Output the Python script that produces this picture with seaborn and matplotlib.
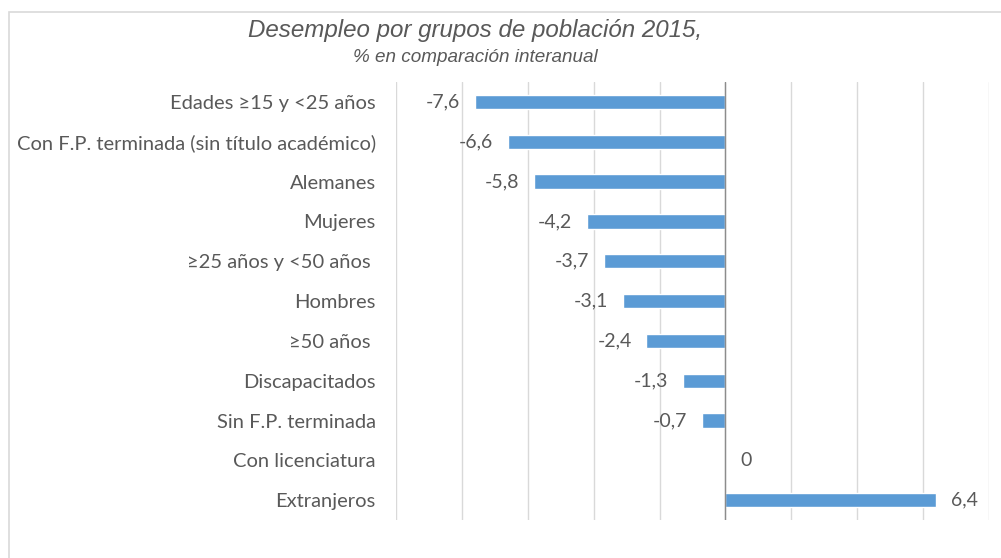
import matplotlib
matplotlib.use("Agg")
import matplotlib.pyplot as plt
import seaborn as sns
import pandas as pd
from matplotlib.patches import Rectangle

categories = [
    "Edades ≥15 y <25 años",
    "Con F.P. terminada (sin título académico)",
    "Alemanes",
    "Mujeres",
    "≥25 años y <50 años ",
    "Hombres",
    "≥50 años ",
    "Discapacitados",
    "Sin F.P. terminada",
    "Con licenciatura",
    "Extranjeros",
]
values = [-7.6, -6.6, -5.8, -4.2, -3.7, -3.1, -2.4, -1.3, -0.7, 0.0, 6.4]
title = "Desempleo por grupos de población 2015,"
subtitle = "% en comparación interanual"

df = pd.DataFrame({"grupo": categories, "valor": values})

sns.set_theme(style="white")
plt.rcParams["font.family"] = ["Lato", "DejaVu Sans"]

text_color = "#595959"
bar_color = "#5B9BD5"

fig = plt.figure(figsize=(10.01, 5.58), dpi=100)
ax = fig.add_axes([0.3956, 0.068, 0.5924, 0.785])

sns.barplot(data=df, x="valor", y="grupo", orient="h", color=bar_color,
            width=0.36, ax=ax, saturation=1)

ax.set_xlim(-10, 8)
ax.set_xticks(range(-10, 9, 2))
ax.tick_params(axis="x", length=0, labelbottom=False)
ax.tick_params(axis="y", length=0, labelsize=14.5, labelcolor=text_color, pad=14.5)
ax.grid(axis="x", color="#D9D9D9", linewidth=1)
ax.set_axisbelow(True)
ax.axvline(0, color="#8C8C8C", linewidth=1, zorder=3)
for s in ax.spines.values():
    s.set_visible(False)
ax.set_xlabel("")
ax.set_ylabel("")

for i, v in enumerate(values):
    lab = ("%g" % v).replace(".", ",")
    if v < 0:
        ax.text(v - 0.45, i, lab, ha="right", va="center", fontsize=14, color=text_color)
    else:
        ax.text(v + 0.45, i, lab, ha="left", va="center", fontsize=14, color=text_color)

fig.text(0.475, 0.945, title, ha="center", va="center", fontsize=17.4, style="italic",
         color=text_color, family=["Liberation Sans", "DejaVu Sans"])
fig.text(0.475, 0.897, subtitle, ha="center", va="center", fontsize=13.6, style="italic",
         color=text_color, family=["Liberation Sans", "DejaVu Sans"])

fig.patches.append(Rectangle((9 / 1001, -0.1), 1.2, 1.1 - 12 / 558, transform=fig.transFigure,
                             fill=False, edgecolor="#D9D9D9", linewidth=1.2))

fig.savefig("out.png", dpi=100)
